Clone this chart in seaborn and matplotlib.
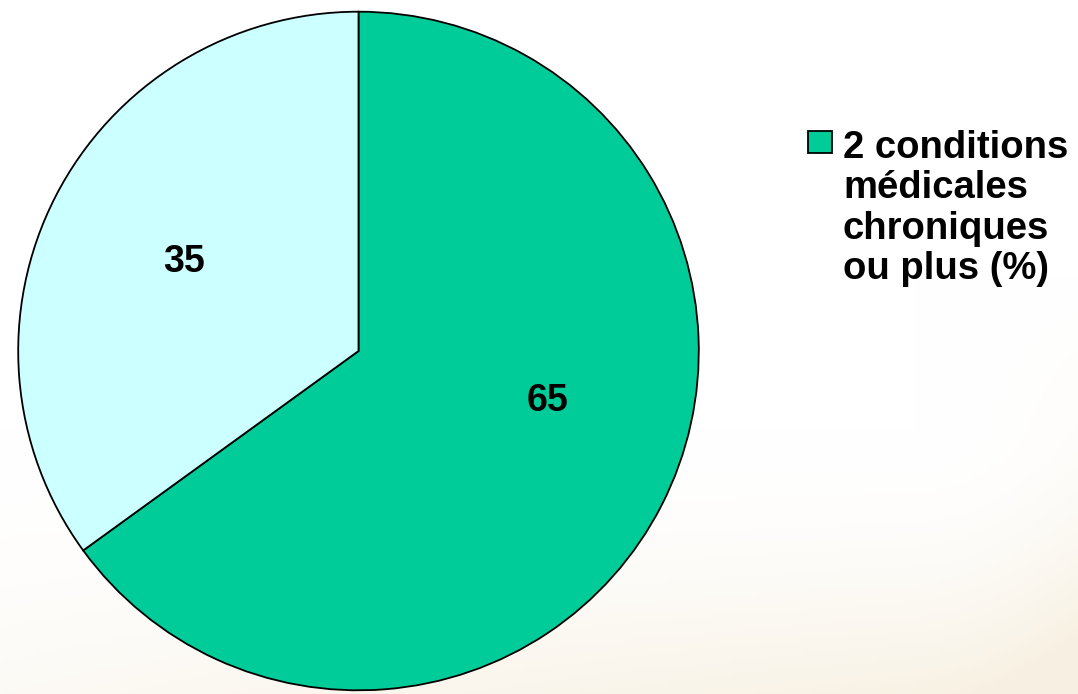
import numpy as np
import matplotlib
matplotlib.use("Agg")
import matplotlib.pyplot as plt
from matplotlib.patches import Rectangle
import seaborn as sns

# Share of patients by number of chronic medical conditions
values = [65, 35]
legend_label = "2 conditions\nmédicales\nchroniques\nou plus (%)"
colors = ["#00CC99", "#CCFFFF"]

sns.set_theme(style="white")
plt.rcParams["font.family"] = ["Liberation Sans", "DejaVu Sans"]
plt.rcParams["font.weight"] = "bold"
plt.rcParams["text.color"] = "black"

W, H = 1078, 694
fig = plt.figure(figsize=(W / 100, H / 100), dpi=100)
fig.patch.set_facecolor("white")

# faint warm wash toward the lower edge of the page
bg = fig.add_axes([0, 0, 1, 1], zorder=-10)
yy, xx = np.mgrid[0:1:200j, 0:1:300j]
strength = np.clip((yy - 0.62) / 0.38, 0, 1) ** 1.8 * (0.35 + 0.65 * xx)
strength += np.clip((xx - 0.85) / 0.15, 0, 1) ** 2 * np.clip((yy - 0.4) / 0.6, 0, 1) * 0.4
strength = np.clip(strength, 0, 1) * 0.7
warm = np.array([0.96, 0.92, 0.84])
img = 1 - strength[..., None] * (1 - warm)
bg.imshow(img, extent=[0, 1, 0, 1], origin="upper", aspect="auto")
bg.set_axis_off()

# pie axes: circle spans x 16..701, y 10..692 in pixels
ax = fig.add_axes([16.5 / W, 2 / H, 684 / W, 682 / H])
ax.set_facecolor("none")
wedges, _ = ax.pie(
    values,
    colors=colors,
    startangle=90,
    counterclock=False,
    radius=1.0,
    wedgeprops=dict(edgecolor="black", linewidth=1.3),
)
ax.set_xlim(-1.005, 1.005)
ax.set_ylim(-1.005, 1.005)
ax.set_aspect("auto")
ax.set_axis_off()

# value labels inside each slice
offsets = [12.0, 0.0]
for w, v, off in zip(wedges, values, offsets):
    mid = np.deg2rad((w.theta1 + w.theta2) / 2 + off)
    r = 0.575
    ax.text(r * np.cos(mid), r * np.sin(mid), f"{v}", ha="center", va="center",
            fontsize=27, fontweight="bold", color="black")

# legend: swatch next to the first line of the wrapped label
fig.patches.append(Rectangle((808 / W, 1 - 153 / H), 24 / W, 22 / H,
                             transform=fig.transFigure, facecolor=colors[0],
                             edgecolor="black", linewidth=1.3, figure=fig))
# baseline anchor refers to the last line of the block
fig.text(843 / W, 1 - 279 / H, legend_label, ha="left", va="baseline",
         fontsize=27.5, fontweight="bold", color="black", linespacing=1.16,
         multialignment="left")

fig.savefig("out.png", dpi=100, facecolor=fig.get_facecolor())
